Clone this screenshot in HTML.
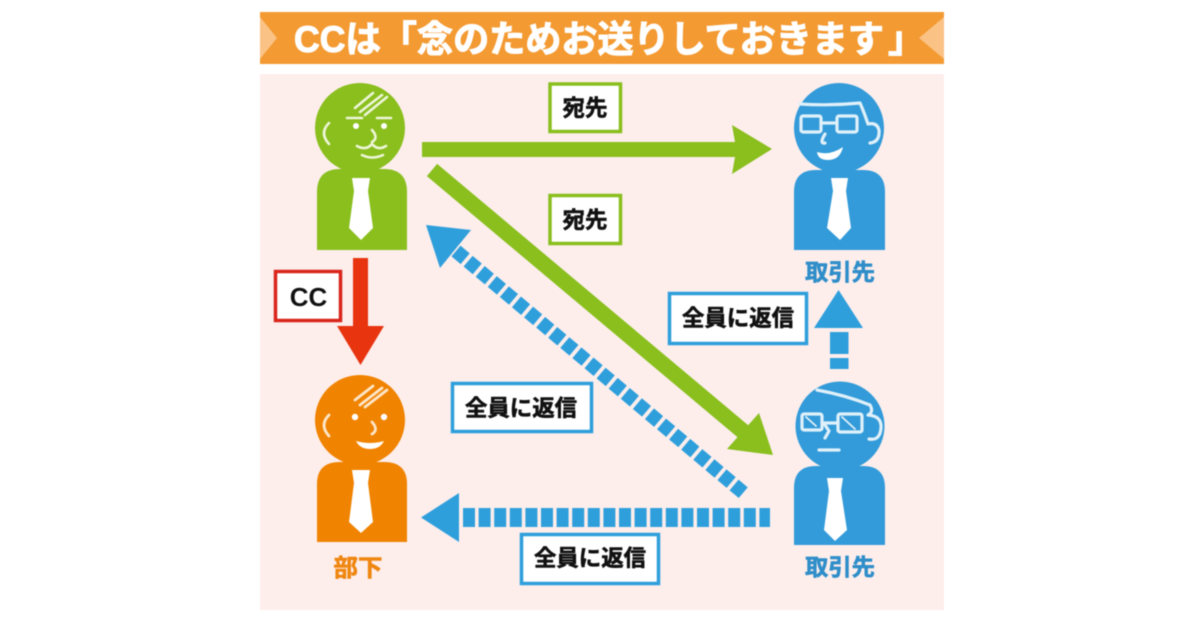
<!DOCTYPE html>
<html><head><meta charset="utf-8"><style>
html,body{margin:0;padding:0;background:#fff}
svg{display:block;width:1200px;height:630px}
#g{filter:blur(.55px)}
text{font-family:"Liberation Sans","Noto Sans CJK JP",sans-serif;font-weight:700}
.t{font-size:37px;fill:#fff;stroke:#fff;stroke-width:1.1}
.l{font-size:22.5px;fill:#111;stroke:#111;stroke-width:.6;text-anchor:middle}
.f{fill:none;stroke-linecap:round;stroke-linejoin:round}
</style></head><body>
<svg viewBox="0 0 1200 630" xmlns="http://www.w3.org/2000/svg">
<rect width="1200" height="630" fill="#fff"/>
<g id="g">
<rect x="260" y="12" width="684" height="52" fill="#f39a32"/>
<polygon points="260,17 277,38 260,59" fill="#fbc285"/>
<polygon points="944,17 919,38 944,59" fill="#fbc285"/>
<text class="t" x="294" y="52" textLength="87" lengthAdjust="spacingAndGlyphs">CCは</text>
<text class="t" x="380" y="52">「</text>
<text class="t" x="417" y="52" textLength="467" lengthAdjust="spacingAndGlyphs">念のためお送りしておきます</text>
<text class="t" x="888" y="52">」</text>
<rect x="260" y="74" width="684" height="536" fill="#fdeeec"/>

<!-- green person -->
<g fill="#8abf1e">
<circle cx="360" cy="128" r="45"/>
<path d="M317 250V192Q317 169 340 169H384Q407 169 407 192V250Z"/>
</g>
<path d="M352 178H370L368 191L373 228L361 240L349 228L354 191Z" fill="#fff"/>
<g class="f" stroke="#eef6d8" stroke-width="2.6">
<path d="M355 108L373 93M360 112L382 95M365 115L387 97"/>
<path d="M329 123Q319 133 329 144"/>
<path d="M347 118H362M377 118H391"/>
<path d="M372 130Q379 138 372 142"/>
<path d="M357 146Q366 151 372 144Q378 151 386 146"/>
<path d="M362 155Q372 160 383 155"/>
</g>
<circle cx="356" cy="126" r="3" fill="#fff"/><circle cx="384" cy="126" r="3" fill="#fff"/>

<!-- blue person top -->
<g fill="#339bd9">
<circle cx="839" cy="128" r="45"/>
<path d="M794 250V192Q794 170 816 170H863Q885 170 885 192V250Z"/>
</g>
<path d="M831 178H848L846 191L851 228L840 240L827 228L833 191Z" fill="#fff"/>
<g class="f" stroke="#dff0fa" stroke-width="3.2">
<path d="M800 104Q830 106 860 103Q864 112 868 124Q877 122 879 130Q880 142 870 143"/>
<rect x="801" y="116" width="20" height="16" rx="2"/>
<rect x="837" y="116" width="20" height="16" rx="2"/>
<path d="M821 123H837"/>
<path d="M825 134Q819 144 825 143"/>
</g>
<path d="M817 152Q830 156 843 147Q840 160 828 160Q818 160 817 152Z" fill="#fff"/>
<text x="840" y="280" font-size="23" fill="#2f8ec9" stroke="#2f8ec9" stroke-width=".6" text-anchor="middle" textLength="70" lengthAdjust="spacingAndGlyphs">取引先</text>

<!-- blue person bottom -->
<g fill="#339bd9">
<circle cx="840" cy="426" r="44.5"/>
<path d="M794 545V488Q794 466 816 466H863Q885 466 885 488V545Z"/>
</g>
<path d="M827 478H843L841 491L847 530L835 541L824 530L829 491Z" fill="#fff"/>
<g class="f" stroke="#dff0fa" stroke-width="3.2">
<path d="M817 390Q845 395 870 405Q874 412 868 415Q882 416 881 428Q880 441 869 439"/>
<rect x="802" y="414" width="20" height="16" rx="2"/>
<rect x="838" y="414" width="24" height="18" rx="2"/>
<path d="M822 423H838"/>
<path d="M825 425L829 431L825 438"/>
<path d="M819 450H839"/>
<path d="M806 417L816 426M842 417L855 429" stroke-width="1.8"/>
</g>
<text x="840" y="575" font-size="23" fill="#2f8ec9" stroke="#2f8ec9" stroke-width=".6" text-anchor="middle" textLength="70" lengthAdjust="spacingAndGlyphs">取引先</text>

<!-- orange person -->
<g fill="#f08300">
<circle cx="360" cy="420" r="45"/>
<path d="M317 542V484Q317 462 340 462H384Q407 462 407 484V542Z"/>
</g>
<path d="M352 470H370L368 483L373 522L361 533L349 522L354 483Z" fill="#fff"/>
<g class="f" stroke="#fde6c8" stroke-width="2.8">
<path d="M355 400L373 386M360 405L382 388M365 407L387 390"/>
<path d="M329 415Q319 425 329 436"/>
<path d="M372 422Q379 430 372 434"/>
</g>
<circle cx="355" cy="417" r="3.2" fill="#fff"/><circle cx="384" cy="417" r="3.2" fill="#fff"/>
<path d="M356 441Q370 445 384 441Q380 449 370 449Q360 449 356 441Z" fill="#fff"/>
<text x="358" y="576" font-size="24" fill="#ef8610" stroke="#ef8610" stroke-width=".6" text-anchor="middle" textLength="49" lengthAdjust="spacingAndGlyphs">部下</text>

<!-- green arrows -->
<polygon points="422,142 735,142 732,125 772,149 732,174 735,157 422,157" fill="#8abf1e"/>
<line x1="432" y1="170" x2="745" y2="433" stroke="#8abf1e" stroke-width="16"/>
<polygon points="773,455 759,413 727,449" fill="#8abf1e"/>

<!-- blue dashed arrows -->
<line x1="456" y1="251" x2="746" y2="495" stroke="#2f9fdc" stroke-width="14" stroke-dasharray="12 3.8"/>
<polygon points="426,225 471,230 440,268" fill="#2f9fdc"/>
<line x1="463" y1="517.5" x2="770" y2="517.5" stroke="#2f9fdc" stroke-width="19" stroke-dasharray="12 3.6"/>
<polygon points="421,517.5 459,493 459,542" fill="#2f9fdc"/>
<rect x="830" y="332" width="18.5" height="22" fill="#2f9fdc"/>
<rect x="830" y="358" width="18.5" height="11" fill="#2f9fdc"/>
<polygon points="838.5,290 863,328 814,328" fill="#2f9fdc"/>

<!-- red arrow -->
<polygon points="353,258 368,258 368,326 384,326 360.5,365 337,326 353,326" fill="#e8340f"/>

<!-- labels -->
<g fill="#fff" stroke-width="3.5">
<rect x="550" y="84" width="70.500" height="47.500" stroke="#8abf1e"/>
<rect x="550" y="195.500" width="70.500" height="48" stroke="#8abf1e"/>
<rect x="275.500" y="271.500" width="65" height="49" stroke="#d9251c"/>
<rect x="669.500" y="293.500" width="137" height="50" stroke="#2f9fdc"/>
<rect x="452.500" y="383.500" width="139" height="48" stroke="#2f9fdc"/>
<rect x="521.500" y="534.500" width="137" height="49" stroke="#2f9fdc"/>
</g>
<text class="l" x="585" y="116" textLength="45" lengthAdjust="spacingAndGlyphs">宛先</text>
<text class="l" x="585" y="228" textLength="45" lengthAdjust="spacingAndGlyphs">宛先</text>
<text x="308.500" y="306" font-size="26" fill="#111" text-anchor="middle">CC</text>
<text class="l" x="738" y="326" textLength="112" lengthAdjust="spacingAndGlyphs">全員に返信</text>
<text class="l" x="521" y="416" textLength="112" lengthAdjust="spacingAndGlyphs">全員に返信</text>
<text class="l" x="590" y="566" textLength="112" lengthAdjust="spacingAndGlyphs">全員に返信</text>
</g>
</svg>
</body></html>
